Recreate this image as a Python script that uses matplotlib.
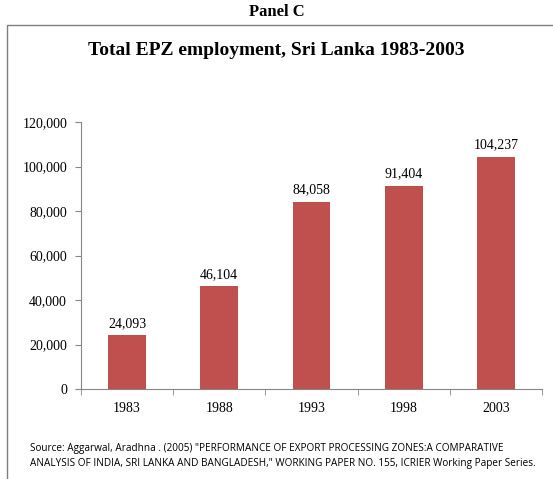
import matplotlib
matplotlib.use("Agg")
from matplotlib import pyplot as plt
from matplotlib.patches import Rectangle
from matplotlib.ticker import FuncFormatter

years = ["1983", "1988", "1993", "1998", "2003"]
employment = [24093, 46104, 84058, 91404, 104237]
y_ticks = [0, 20000, 40000, 60000, 80000, 100000, 120000]

bar_color = "#C0504D"
axis_color = "#868686"
serif = "Liberation Serif"

fig = plt.figure(figsize=(5.53, 4.79), dpi=100)

# outer frame, runs off the right/bottom edge like the clipped screenshot
frame = Rectangle((7 / 553, -0.05), 1.2, 1 - 25 / 479 + 0.05, transform=fig.transFigure,
                  fill=False, edgecolor="#7f7f7f", linewidth=1.0, clip_on=False)
fig.patches.append(frame)

fig.text(0.5, 0.975, "Panel C", ha="center", va="center", fontsize=12,
         fontweight="bold", family=serif)
fig.text(0.5, 0.895, "Total EPZ employment, Sri Lanka 1983-2003", ha="center",
         va="center", fontsize=14, fontweight="bold", family=serif)

ax = fig.add_axes([81 / 553, 1 - 389 / 479, (542 - 81) / 553, (389 - 122) / 479])
x = range(len(years))
ax.bar(x, employment, width=0.41, color=bar_color)

for xi, v in zip(x, employment):
    ax.text(xi, v + 2500, f"{v:,}", ha="center", va="bottom", fontsize=10, family=serif)

ax.set_xlim(-0.5, len(years) - 0.5)
ax.set_ylim(0, 120000)
ax.set_yticks(y_ticks)
ax.yaxis.set_major_formatter(FuncFormatter(lambda v, p: f"{int(v):,}"))
ax.set_xticks(list(x))
ax.set_xticklabels(years)
ax.set_xticks([i - 0.5 for i in range(len(years) + 1)], minor=True)

for name in ["top", "right"]:
    ax.spines[name].set_visible(False)
for name in ["left", "bottom"]:
    ax.spines[name].set_color(axis_color)
    ax.spines[name].set_linewidth(0.8)

ax.tick_params(axis="y", direction="out", length=4, color=axis_color, labelsize=10, pad=6)
ax.tick_params(axis="x", which="major", length=0, labelsize=10, pad=9)
ax.tick_params(axis="x", which="minor", direction="out", length=4, color=axis_color)
for lab in ax.get_xticklabels() + ax.get_yticklabels():
    lab.set_family(serif)

fig.text(30 / 553, 1 - 456 / 479,
         "Source: Aggarwal, Aradhna . (2005) \"PERFORMANCE OF EXPORT PROCESSING ZONES:A COMPARATIVE\n"
         "ANALYSIS OF INDIA, SRI LANKA AND BANGLADESH,\" WORKING PAPER NO. 155, ICRIER Working Paper Series.",
         ha="left", va="center", fontsize=7.2, family="Open Sans", linespacing=1.45)

fig.savefig("out.png", dpi=100)
